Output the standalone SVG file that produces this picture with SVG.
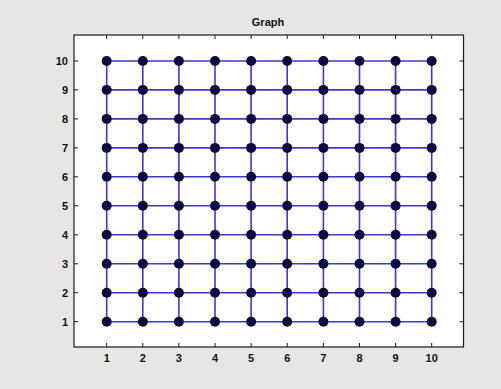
<svg xmlns="http://www.w3.org/2000/svg" width="501" height="389" viewBox="0 0 501 389">
<style>
.bg{fill:#e6e6e4}
.ax{fill:#ffffff;stroke:#1a1a1a;stroke-width:1.2}
.tk{stroke:#1a1a1a;stroke-width:1}
.e{stroke:#3a3ad0;stroke-width:1.6;fill:none}
.n circle{fill:#0b0b3f}
.t{font-family:"Liberation Sans",Arial,sans-serif;font-size:11px;font-weight:bold;fill:#111}
</style>
<rect class="bg" x="0" y="0" width="501" height="389"/>
<rect class="ax" x="74" y="35" width="389.5" height="312"/>
<text class="t" x="268" y="26" text-anchor="middle">Graph</text>
<g id="ticks">
<path class="tk" d="M106.7,347v-4M142.8,347v-4M178.9,347v-4M215,347v-4M251.1,347v-4M287.2,347v-4M323.4,347v-4M359.5,347v-4M395.6,347v-4M431.7,347v-4
M106.7,35v4M142.8,35v4M178.9,35v4M215,35v4M251.1,35v4M287.2,35v4M323.4,35v4M359.5,35v4M395.6,35v4M431.7,35v4
M74,321.7h4M74,292.7h4M74,263.8h4M74,234.8h4M74,205.8h4M74,176.8h4M74,147.9h4M74,118.9h4M74,89.9h4M74,61h4
M463.5,321.7h-4M463.5,292.7h-4M463.5,263.8h-4M463.5,234.8h-4M463.5,205.8h-4M463.5,176.8h-4M463.5,147.9h-4M463.5,118.9h-4M463.5,89.9h-4M463.5,61h-4"/>
</g>
<g id="xlabels" class="t" text-anchor="middle">
<text x="106.7" y="362">1</text><text x="142.8" y="362">2</text><text x="178.9" y="362">3</text><text x="215" y="362">4</text><text x="251.1" y="362">5</text><text x="287.2" y="362">6</text><text x="323.4" y="362">7</text><text x="359.5" y="362">8</text><text x="395.6" y="362">9</text><text x="431.7" y="362">10</text>
</g>
<g id="ylabels" class="t" text-anchor="end">
<text x="68" y="325.7">1</text><text x="68" y="296.7">2</text><text x="68" y="267.8">3</text><text x="68" y="238.8">4</text><text x="68" y="209.8">5</text><text x="68" y="180.8">6</text><text x="68" y="151.9">7</text><text x="68" y="122.9">8</text><text x="68" y="93.9">9</text><text x="68" y="65">10</text>
</g>
<g id="connectors" class="e">
<line x1="106.7" y1="321.7" x2="431.7" y2="321.7"/>
<line x1="106.7" y1="292.7" x2="431.7" y2="292.7"/>
<line x1="106.7" y1="263.8" x2="431.7" y2="263.8"/>
<line x1="106.7" y1="234.8" x2="431.7" y2="234.8"/>
<line x1="106.7" y1="205.8" x2="431.7" y2="205.8"/>
<line x1="106.7" y1="176.8" x2="431.7" y2="176.8"/>
<line x1="106.7" y1="147.9" x2="431.7" y2="147.9"/>
<line x1="106.7" y1="118.9" x2="431.7" y2="118.9"/>
<line x1="106.7" y1="89.9" x2="431.7" y2="89.9"/>
<line x1="106.7" y1="61" x2="431.7" y2="61"/>
<line x1="106.7" y1="61" x2="106.7" y2="321.7"/>
<line x1="142.8" y1="61" x2="142.8" y2="321.7"/>
<line x1="178.9" y1="61" x2="178.9" y2="321.7"/>
<line x1="215" y1="61" x2="215" y2="321.7"/>
<line x1="251.1" y1="61" x2="251.1" y2="321.7"/>
<line x1="287.2" y1="61" x2="287.2" y2="321.7"/>
<line x1="323.4" y1="61" x2="323.4" y2="321.7"/>
<line x1="359.5" y1="61" x2="359.5" y2="321.7"/>
<line x1="395.6" y1="61" x2="395.6" y2="321.7"/>
<line x1="431.7" y1="61" x2="431.7" y2="321.7"/>
</g>
<g id="nodes">
<g id="n1_1" class="n"><circle cx="106.7" cy="321.7" r="5"/></g>
<g id="n2_1" class="n"><circle cx="142.8" cy="321.7" r="5"/></g>
<g id="n3_1" class="n"><circle cx="178.9" cy="321.7" r="5"/></g>
<g id="n4_1" class="n"><circle cx="215" cy="321.7" r="5"/></g>
<g id="n5_1" class="n"><circle cx="251.1" cy="321.7" r="5"/></g>
<g id="n6_1" class="n"><circle cx="287.2" cy="321.7" r="5"/></g>
<g id="n7_1" class="n"><circle cx="323.4" cy="321.7" r="5"/></g>
<g id="n8_1" class="n"><circle cx="359.5" cy="321.7" r="5"/></g>
<g id="n9_1" class="n"><circle cx="395.6" cy="321.7" r="5"/></g>
<g id="n10_1" class="n"><circle cx="431.7" cy="321.7" r="5"/></g>
<g id="n1_2" class="n"><circle cx="106.7" cy="292.7" r="5"/></g>
<g id="n2_2" class="n"><circle cx="142.8" cy="292.7" r="5"/></g>
<g id="n3_2" class="n"><circle cx="178.9" cy="292.7" r="5"/></g>
<g id="n4_2" class="n"><circle cx="215" cy="292.7" r="5"/></g>
<g id="n5_2" class="n"><circle cx="251.1" cy="292.7" r="5"/></g>
<g id="n6_2" class="n"><circle cx="287.2" cy="292.7" r="5"/></g>
<g id="n7_2" class="n"><circle cx="323.4" cy="292.7" r="5"/></g>
<g id="n8_2" class="n"><circle cx="359.5" cy="292.7" r="5"/></g>
<g id="n9_2" class="n"><circle cx="395.6" cy="292.7" r="5"/></g>
<g id="n10_2" class="n"><circle cx="431.7" cy="292.7" r="5"/></g>
<g id="n1_3" class="n"><circle cx="106.7" cy="263.8" r="5"/></g>
<g id="n2_3" class="n"><circle cx="142.8" cy="263.8" r="5"/></g>
<g id="n3_3" class="n"><circle cx="178.9" cy="263.8" r="5"/></g>
<g id="n4_3" class="n"><circle cx="215" cy="263.8" r="5"/></g>
<g id="n5_3" class="n"><circle cx="251.1" cy="263.8" r="5"/></g>
<g id="n6_3" class="n"><circle cx="287.2" cy="263.8" r="5"/></g>
<g id="n7_3" class="n"><circle cx="323.4" cy="263.8" r="5"/></g>
<g id="n8_3" class="n"><circle cx="359.5" cy="263.8" r="5"/></g>
<g id="n9_3" class="n"><circle cx="395.6" cy="263.8" r="5"/></g>
<g id="n10_3" class="n"><circle cx="431.7" cy="263.8" r="5"/></g>
<g id="n1_4" class="n"><circle cx="106.7" cy="234.8" r="5"/></g>
<g id="n2_4" class="n"><circle cx="142.8" cy="234.8" r="5"/></g>
<g id="n3_4" class="n"><circle cx="178.9" cy="234.8" r="5"/></g>
<g id="n4_4" class="n"><circle cx="215" cy="234.8" r="5"/></g>
<g id="n5_4" class="n"><circle cx="251.1" cy="234.8" r="5"/></g>
<g id="n6_4" class="n"><circle cx="287.2" cy="234.8" r="5"/></g>
<g id="n7_4" class="n"><circle cx="323.4" cy="234.8" r="5"/></g>
<g id="n8_4" class="n"><circle cx="359.5" cy="234.8" r="5"/></g>
<g id="n9_4" class="n"><circle cx="395.6" cy="234.8" r="5"/></g>
<g id="n10_4" class="n"><circle cx="431.7" cy="234.8" r="5"/></g>
<g id="n1_5" class="n"><circle cx="106.7" cy="205.8" r="5"/></g>
<g id="n2_5" class="n"><circle cx="142.8" cy="205.8" r="5"/></g>
<g id="n3_5" class="n"><circle cx="178.9" cy="205.8" r="5"/></g>
<g id="n4_5" class="n"><circle cx="215" cy="205.8" r="5"/></g>
<g id="n5_5" class="n"><circle cx="251.1" cy="205.8" r="5"/></g>
<g id="n6_5" class="n"><circle cx="287.2" cy="205.8" r="5"/></g>
<g id="n7_5" class="n"><circle cx="323.4" cy="205.8" r="5"/></g>
<g id="n8_5" class="n"><circle cx="359.5" cy="205.8" r="5"/></g>
<g id="n9_5" class="n"><circle cx="395.6" cy="205.8" r="5"/></g>
<g id="n10_5" class="n"><circle cx="431.7" cy="205.8" r="5"/></g>
<g id="n1_6" class="n"><circle cx="106.7" cy="176.8" r="5"/></g>
<g id="n2_6" class="n"><circle cx="142.8" cy="176.8" r="5"/></g>
<g id="n3_6" class="n"><circle cx="178.9" cy="176.8" r="5"/></g>
<g id="n4_6" class="n"><circle cx="215" cy="176.8" r="5"/></g>
<g id="n5_6" class="n"><circle cx="251.1" cy="176.8" r="5"/></g>
<g id="n6_6" class="n"><circle cx="287.2" cy="176.8" r="5"/></g>
<g id="n7_6" class="n"><circle cx="323.4" cy="176.8" r="5"/></g>
<g id="n8_6" class="n"><circle cx="359.5" cy="176.8" r="5"/></g>
<g id="n9_6" class="n"><circle cx="395.6" cy="176.8" r="5"/></g>
<g id="n10_6" class="n"><circle cx="431.7" cy="176.8" r="5"/></g>
<g id="n1_7" class="n"><circle cx="106.7" cy="147.9" r="5"/></g>
<g id="n2_7" class="n"><circle cx="142.8" cy="147.9" r="5"/></g>
<g id="n3_7" class="n"><circle cx="178.9" cy="147.9" r="5"/></g>
<g id="n4_7" class="n"><circle cx="215" cy="147.9" r="5"/></g>
<g id="n5_7" class="n"><circle cx="251.1" cy="147.9" r="5"/></g>
<g id="n6_7" class="n"><circle cx="287.2" cy="147.9" r="5"/></g>
<g id="n7_7" class="n"><circle cx="323.4" cy="147.9" r="5"/></g>
<g id="n8_7" class="n"><circle cx="359.5" cy="147.9" r="5"/></g>
<g id="n9_7" class="n"><circle cx="395.6" cy="147.9" r="5"/></g>
<g id="n10_7" class="n"><circle cx="431.7" cy="147.9" r="5"/></g>
<g id="n1_8" class="n"><circle cx="106.7" cy="118.9" r="5"/></g>
<g id="n2_8" class="n"><circle cx="142.8" cy="118.9" r="5"/></g>
<g id="n3_8" class="n"><circle cx="178.9" cy="118.9" r="5"/></g>
<g id="n4_8" class="n"><circle cx="215" cy="118.9" r="5"/></g>
<g id="n5_8" class="n"><circle cx="251.1" cy="118.9" r="5"/></g>
<g id="n6_8" class="n"><circle cx="287.2" cy="118.9" r="5"/></g>
<g id="n7_8" class="n"><circle cx="323.4" cy="118.9" r="5"/></g>
<g id="n8_8" class="n"><circle cx="359.5" cy="118.9" r="5"/></g>
<g id="n9_8" class="n"><circle cx="395.6" cy="118.9" r="5"/></g>
<g id="n10_8" class="n"><circle cx="431.7" cy="118.9" r="5"/></g>
<g id="n1_9" class="n"><circle cx="106.7" cy="89.9" r="5"/></g>
<g id="n2_9" class="n"><circle cx="142.8" cy="89.9" r="5"/></g>
<g id="n3_9" class="n"><circle cx="178.9" cy="89.9" r="5"/></g>
<g id="n4_9" class="n"><circle cx="215" cy="89.9" r="5"/></g>
<g id="n5_9" class="n"><circle cx="251.1" cy="89.9" r="5"/></g>
<g id="n6_9" class="n"><circle cx="287.2" cy="89.9" r="5"/></g>
<g id="n7_9" class="n"><circle cx="323.4" cy="89.9" r="5"/></g>
<g id="n8_9" class="n"><circle cx="359.5" cy="89.9" r="5"/></g>
<g id="n9_9" class="n"><circle cx="395.6" cy="89.9" r="5"/></g>
<g id="n10_9" class="n"><circle cx="431.7" cy="89.9" r="5"/></g>
<g id="n1_10" class="n"><circle cx="106.7" cy="61" r="5"/></g>
<g id="n2_10" class="n"><circle cx="142.8" cy="61" r="5"/></g>
<g id="n3_10" class="n"><circle cx="178.9" cy="61" r="5"/></g>
<g id="n4_10" class="n"><circle cx="215" cy="61" r="5"/></g>
<g id="n5_10" class="n"><circle cx="251.1" cy="61" r="5"/></g>
<g id="n6_10" class="n"><circle cx="287.2" cy="61" r="5"/></g>
<g id="n7_10" class="n"><circle cx="323.4" cy="61" r="5"/></g>
<g id="n8_10" class="n"><circle cx="359.5" cy="61" r="5"/></g>
<g id="n9_10" class="n"><circle cx="395.6" cy="61" r="5"/></g>
<g id="n10_10" class="n"><circle cx="431.7" cy="61" r="5"/></g>
</g>
</svg>
